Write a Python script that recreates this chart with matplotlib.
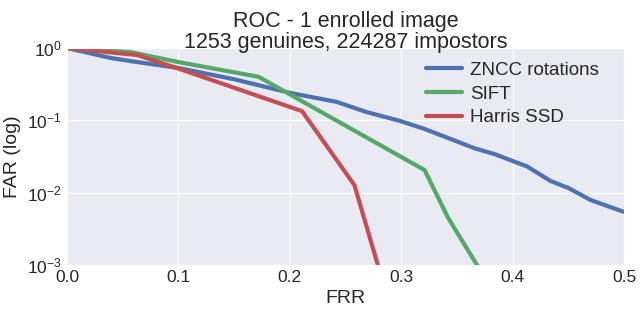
import numpy as np
import matplotlib
matplotlib.use("Agg")
import matplotlib.pyplot as plt
import seaborn as sns

# ROC curves (FRR vs FAR)
zncc_frr = [0.0, 0.039, 0.057, 0.1, 0.15, 0.2, 0.242, 0.269, 0.299, 0.321, 0.366,
            0.384, 0.413, 0.434, 0.45, 0.47, 0.5]
zncc_far = [1.0, 0.73, 0.66, 0.53, 0.37, 0.24, 0.18, 0.13, 0.098, 0.076, 0.041,
            0.034, 0.023, 0.0145, 0.0116, 0.0079, 0.0054]
sift_frr = [0.0, 0.057, 0.1, 0.172, 0.321, 0.342, 0.368, 0.38]
sift_far = [1.0, 0.88, 0.64, 0.40, 0.0205, 0.0045, 0.001, 0.0005]
harris_frr = [0.0, 0.063, 0.1, 0.211, 0.258, 0.279, 0.285]
harris_far = [1.0, 0.8, 0.52, 0.134, 0.0127, 0.001, 0.0005]

sns.set_style("darkgrid")
plt.rcParams['font.family'] = ['Liberation Sans', 'DejaVu Sans']
plt.rcParams['mathtext.fontset'] = 'custom'
plt.rcParams['mathtext.rm'] = 'Liberation Sans'
plt.rcParams['mathtext.it'] = 'Liberation Sans:italic'

fig, ax = plt.subplots(figsize=(6.41, 3.12), dpi=100)
fig.subplots_adjust(left=0.1045, right=0.9735, top=0.846, bottom=0.151)

ax.plot(zncc_frr, zncc_far, color="#4C72B0", lw=3, label="ZNCC rotations")
ax.plot(sift_frr, sift_far, color="#55A868", lw=3, label="SIFT")
ax.plot(harris_frr, harris_far, color="#C44E52", lw=3, label="Harris SSD")

ax.set_yscale("log")
ax.set_xlim(0, 0.5)
ax.set_ylim(1e-3, 1)
ax.minorticks_off()
ax.tick_params(labelsize=12.5, length=0, pad=4)
ax.set_xlabel("FRR", fontsize=14, labelpad=3)
ax.set_ylabel("FAR (log)", fontsize=14, labelpad=4)
ax.set_title("ROC - 1 enrolled image\n1253 genuines, 224287 impostors",
             fontsize=15.5, linespacing=1.0, pad=0)
ax.legend(loc="upper right", bbox_to_anchor=(0.985, 1.014), fontsize=13.5,
          frameon=False, labelspacing=0.35, handlelength=1.9, handletextpad=0.43)

fig.savefig("out.png", dpi=100)
